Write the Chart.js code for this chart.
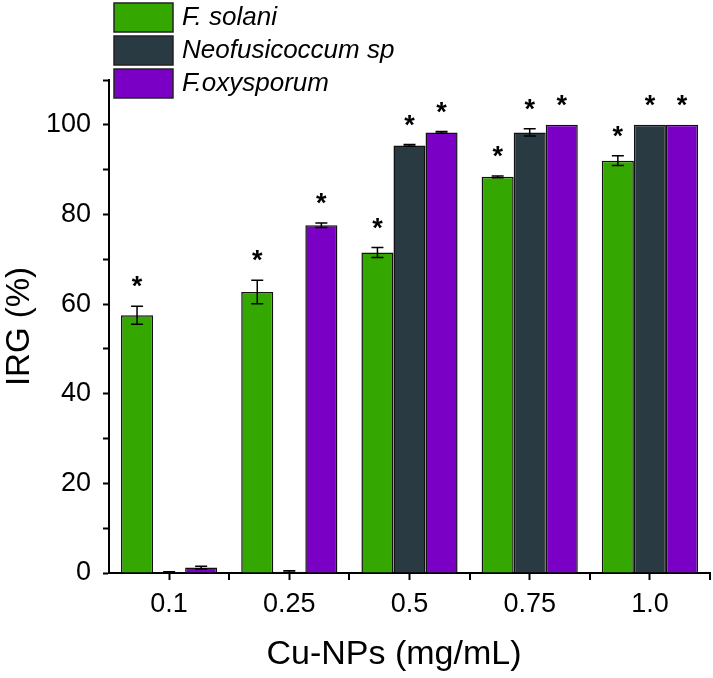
<!DOCTYPE html>
<html>
<head>
<meta charset="utf-8">
<script src="https://cdn.jsdelivr.net/npm/chart.js@4"></script>
<style>
  body { margin: 0; background: #fff; }
  #wrap { width: 713px; height: 678px; }
</style>
</head>
<body>
<div id="wrap"><canvas id="irgChart" width="713" height="678"></canvas></div>
<script>
// Cu-NPs concentrations (mg/mL)
const labels = ['0.1', '0.25', '0.5', '0.75', '1.0'];
const seriesNames = ['F. solani', 'Neofusicoccum sp', 'F.oxysporum'];

// IRG (%), with error bar half-heights
const solani = [57.5, 62.7, 71.5, 88.4, 92.0];
const solaniErr = [2.0, 2.6, 1.1, 0.2, 1.1];
const neofus = [0.2, 0.3, 95.4, 98.3, 100];
const neofusErr = [0.1, 0.2, 0.2, 0.8, 0];
const oxy = [1.2, 77.6, 98.3, 100, 100];
const oxyErr = [0.3, 0.5, 0.2, 0, 0];

// significance marks (*)
const solaniSig = [true, true, true, true, true];
const neofusSig = [false, false, true, true, true];
const oxySig = [false, true, true, true, true];

// labelled y ticks
const yTicks = [0, 20, 40, 60, 80, 100];

const colors = ['#34a800', '#2a3a43', '#7a00c6'];
const FONT = "'Liberation Sans', Arial, sans-serif";

// error bars, asterisks, minor x ticks, x title and the legend
const extras = {
    id: 'extras',
    afterDatasetsDraw(chart) {
        const ctx = chart.ctx;
        const y = chart.scales.y;
        ctx.save();
        chart.data.datasets.forEach((ds, di) => {
            const meta = chart.getDatasetMeta(di);
            meta.data.forEach((bar, i) => {
                const v = ds.data[i];
                const e = ds.errors[i];
                const top = y.getPixelForValue(v + e);
                const bot = y.getPixelForValue(Math.max(0, v - e));
                if (e > 0) {
                    ctx.strokeStyle = '#000';
                    ctx.lineWidth = 1.5;
                    ctx.beginPath();
                    ctx.moveTo(bar.x, top);
                    ctx.lineTo(bar.x, bot);
                    ctx.moveTo(bar.x - 6, top);
                    ctx.lineTo(bar.x + 6, top);
                    ctx.moveTo(bar.x - 6, bot);
                    ctx.lineTo(bar.x + 6, bot);
                    ctx.stroke();
                }
                if (ds.sig[i]) {
                    ctx.fillStyle = '#000';
                    ctx.font = 'bold 27px ' + FONT;
                    ctx.textAlign = 'center';
                    ctx.textBaseline = 'alphabetic';
                    ctx.fillText('*', bar.x, top - 11);
                }
            });
        });
        ctx.restore();
    },
    afterDraw(chart) {
        const ctx = chart.ctx;
        const x = chart.scales.x;
        const area = chart.chartArea;
        ctx.save();
        // minor ticks between categories
        ctx.strokeStyle = '#000';
        ctx.lineWidth = 2;
        const step = (x.right - x.left) / labels.length;
        ctx.beginPath();
        for (let i = 1; i <= labels.length; i++) {
            const px = Math.round(x.left + i * step);
            ctx.moveTo(px, area.bottom);
            ctx.lineTo(px, area.bottom + 7);
        }
        ctx.stroke();

        // x axis title (sits a bit left of centre in the original)
        ctx.fillStyle = '#000';
        ctx.font = '34px ' + FONT;
        ctx.textAlign = 'center';
        ctx.textBaseline = 'middle';
        ctx.fillText('Cu-NPs (mg/mL)', 394, 655);

        // legend
        ctx.font = 'italic 26px ' + FONT;
        ctx.textAlign = 'left';
        seriesNames.forEach((name, i) => {
            const by = 3 + i * 33;
            ctx.fillStyle = colors[i];
            ctx.fillRect(114, by, 59, 29);
            ctx.strokeStyle = '#222';
            ctx.lineWidth = 1.5;
            ctx.strokeRect(114, by, 59, 29);
            ctx.fillStyle = '#000';
            ctx.fillText(name, 182, by + 15);
        });
        ctx.restore();
    }
};

const irgChart = new Chart(document.getElementById('irgChart'), {
    type: 'bar',
    data: {
        labels: labels,
        datasets: [
            { label: seriesNames[0], data: solani, errors: solaniErr, sig: solaniSig,
              backgroundColor: colors[0], borderColor: '#111', borderWidth: 1.5 },
            { label: seriesNames[1], data: neofus, errors: neofusErr, sig: neofusSig,
              backgroundColor: colors[1], borderColor: '#111', borderWidth: 1.5 },
            { label: seriesNames[2], data: oxy, errors: oxyErr, sig: oxySig,
              backgroundColor: colors[2], borderColor: '#111', borderWidth: 1.5 }
        ]
    },
    options: {
        responsive: false,
        animation: false,
        barPercentage: 1.0,
        categoryPercentage: 0.8,
        layout: { padding: { top: 80, right: 3, left: 0, bottom: 0 } },
        plugins: {
            legend: { display: false },
            tooltip: { enabled: false }
        },
        scales: {
            x: {
                afterFit: (s) => { s.height = 105; },
                border: { color: '#000', width: 2 },
                grid: { offset: false, drawOnChartArea: false, tickLength: 7, tickColor: '#000', tickWidth: 2 },
                ticks: { color: '#000', font: { family: FONT, size: 27 }, padding: 8, maxRotation: 0 }
            },
            y: {
                min: 0,
                max: 110,
                afterFit: (s) => { s.width = 109; },
                border: { color: '#000', width: 2 },
                grid: { drawOnChartArea: false, tickLength: 6, tickColor: '#000', tickWidth: 2 },
                ticks: {
                    stepSize: 10,
                    color: '#000',
                    padding: 12,
                    font: { family: FONT, size: 27 },
                    callback: (v) => yTicks.includes(v) ? String(v) : ''
                },
                title: { display: true, text: 'IRG (%)', color: '#000',
                         font: { family: FONT, size: 33 }, padding: 0 }
            }
        }
    },
    plugins: [extras]
});
</script>
</body>
</html>
